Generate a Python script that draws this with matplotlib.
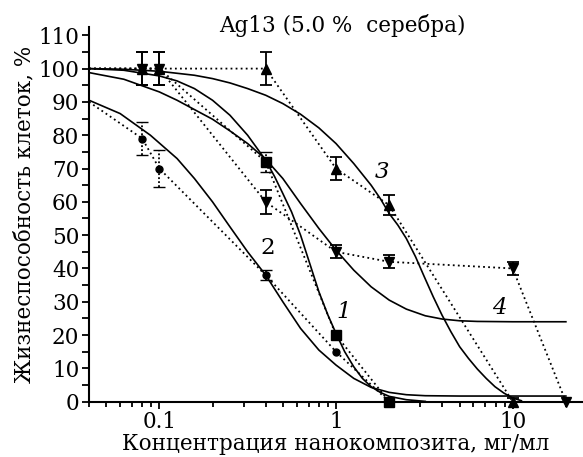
import numpy as np
import matplotlib.pyplot as plt
from matplotlib.ticker import MultipleLocator, LogLocator, NullFormatter, FixedLocator, FixedFormatter

plt.rcParams['font.family'] = ['DejaVu Serif']

# measured points (dotted lines), x in mg/ml, y in %
s1_x = [0.04, 0.1, 0.4, 1, 2]
s1_y = [100, 100, 72, 20, 0]
s1_err = [0, 0, 3, 0, 0]
s1_mark = [2, 3, 4]

s2_x = [0.04, 0.08, 0.1, 0.4, 1, 2]
s2_y = [90, 79, 70, 38, 15, 0]
s2_err = [0, 5, 5.5, 1.5, 0, 0]
s2_mark = [1, 2, 3, 4, 5]

s3_x = [0.04, 0.08, 0.1, 0.4, 1, 2, 10]
s3_y = [100, 100, 100, 100, 70, 59, 0]
s3_err = [0, 5, 5, 5, 3.5, 3, 1]
s3_mark = [1, 2, 3, 4, 5, 6]

s4_x = [0.04, 0.08, 0.1, 0.4, 1, 2, 10, 20]
s4_y = [100, 100, 100, 60, 45, 42, 40, 0]
s4_err = [0, 5, 5, 3.5, 2, 2, 2, 0]
s4_mark = [1, 2, 3, 4, 5, 6, 7]

# fitted curves (solid)
fit1_x = [0.04, 0.063, 0.1, 0.126, 0.158, 0.2, 0.251, 0.316, 0.4, 0.45, 0.5, 0.56, 0.63, 0.71,
          0.8, 0.9, 1.0, 1.12, 1.26, 1.41, 1.58, 1.78, 2.0, 2.5, 3.2]
fit1_y = [100, 99.5, 97.8, 96.3, 94, 90.5, 86, 80, 72.5, 67.5, 62.5, 57, 50, 41.5,
          33, 26, 20.5, 15, 10.5, 7, 4.5, 2.8, 1.6, 0.6, 0.1]

fit2_x = [0.04, 0.06, 0.089, 0.126, 0.158, 0.2, 0.251, 0.316, 0.4, 0.5, 0.63, 0.8, 1.0,
          1.26, 1.58, 2.0, 2.5, 3.2, 5, 10, 20]
fit2_y = [90.5, 86.5, 80, 73, 67, 60, 52.5, 45, 38, 30, 22, 15.5, 11,
          7, 4.3, 2.8, 2.1, 1.8, 1.7, 1.7, 1.7]

fit3_x = [0.04, 0.063, 0.1, 0.158, 0.2, 0.251, 0.316, 0.4, 0.5, 0.63, 0.8, 1.0, 1.26, 1.58,
          1.78, 2.0, 2.24, 2.5, 2.82, 3.16, 3.55, 3.98, 4.47, 5.01, 5.62, 6.31, 7.08, 7.94,
          8.91, 10, 11.2]
fit3_y = [100, 99.8, 99.2, 98, 97, 95.7, 94, 92, 89.5, 86.3, 82.2, 77.5, 71.5, 65,
          61, 56.5, 53, 49, 43.5, 37.5, 31.5, 26, 21, 16.5, 13, 9.8, 7, 4.5,
          2.6, 1.1, 0.3]

fit4_x = [0.04, 0.063, 0.1, 0.126, 0.158, 0.2, 0.251, 0.316, 0.4, 0.5, 0.63, 0.8, 1.0,
          1.26, 1.58, 2.0, 2.5, 3.2, 4.0, 5.0, 6.3, 10, 20]
fit4_y = [98.8, 96.8, 93, 90.5, 87.7, 84.8, 81.3, 77.5, 72.8, 67, 59.5, 52, 45.5,
          39.5, 34.5, 30.5, 27.8, 25.8, 24.8, 24.3, 24.1, 24, 24]

curve_labels = ['1', '2', '3', '4']
label_x = [1.1, 0.41, 1.82, 8.4]
label_y = [27, 46, 69, 28]

fig = plt.figure(figsize=(5.83, 4.57), dpi=100)
ax = fig.add_axes([0.1527, 0.121, 0.8473, 0.82])

fs = 15.5
kw_dot = dict(color='black', linestyle=(0, (1, 1.8)), linewidth=1.3)
kw_fit = dict(color='black', linestyle='-', linewidth=1.2)

for fx, fy in [(fit1_x, fit1_y), (fit2_x, fit2_y), (fit3_x, fit3_y), (fit4_x, fit4_y)]:
    ax.plot(fx, fy, **kw_fit)

series = [
    (s1_x, s1_y, s1_err, s1_mark, 's', 6.5, True),
    (s2_x, s2_y, s2_err, s2_mark, 'o', 5, True),
    (s3_x, s3_y, s3_err, s3_mark, '^', 7, False),
    (s4_x, s4_y, s4_err, s4_mark, 'v', 7, False),
]
for x, y, err, mark, m, ms, dotted_err in series:
    ax.plot(x, y, **kw_dot)
    mx = [x[i] for i in mark]
    my = [y[i] for i in mark]
    me = [err[i] for i in mark]
    ax.plot(mx, my, linestyle='none', marker=m, markersize=ms, color='black', clip_on=False, zorder=4)
    ex = [a for a, e in zip(mx, me) if e > 0]
    ey = [b for b, e in zip(my, me) if e > 0]
    ee = [e for e in me if e > 0]
    eb = ax.errorbar(ex, ey, yerr=ee, fmt='none', ecolor='black', elinewidth=1.3,
                     capsize=4, capthick=1.3 if not dotted_err else 1.0, zorder=3)
    if dotted_err:
        eb[2][0].set_linestyle((0, (1, 1.2)))

for t, lx, ly in zip(curve_labels, label_x, label_y):
    ax.text(lx, ly, t, fontsize=fs + 1, style='normal' if t == '2' else 'italic',
            ha='center', va='center')

ax.set_xscale('log')
ax.set_xlim(0.04, 25)
ax.set_ylim(0, 112.5)

ax.xaxis.set_major_locator(FixedLocator([0.1, 1, 10]))
ax.xaxis.set_major_formatter(FixedFormatter(['0.1', '1', '10']))
ax.xaxis.set_minor_locator(LogLocator(base=10, subs=np.arange(2, 10)))
ax.xaxis.set_minor_formatter(NullFormatter())
ax.yaxis.set_major_locator(MultipleLocator(10))
ax.yaxis.set_minor_locator(MultipleLocator(5))

ax.tick_params(axis='both', which='major', direction='out', length=5, width=1.3,
               labelsize=fs, pad=2)
ax.tick_params(axis='x', which='minor', direction='out', length=3.8, width=1.3)
ax.tick_params(axis='y', which='minor', direction='out', length=5, width=1.3)

for s in ['top', 'right']:
    ax.spines[s].set_visible(False)
for s in ['left', 'bottom']:
    ax.spines[s].set_linewidth(1.5)

ax.set_xlabel('Концентрация нанокомпозита, мг/мл', fontsize=fs, labelpad=0)
ax.set_ylabel('Жизнеспособность клеток, %', fontsize=fs, labelpad=2)
fig.text(0.588, 0.945, 'Ag13 (5.0 %  серебра)', fontsize=fs, ha='center', va='center')

fig.savefig('out.png', dpi=100)
